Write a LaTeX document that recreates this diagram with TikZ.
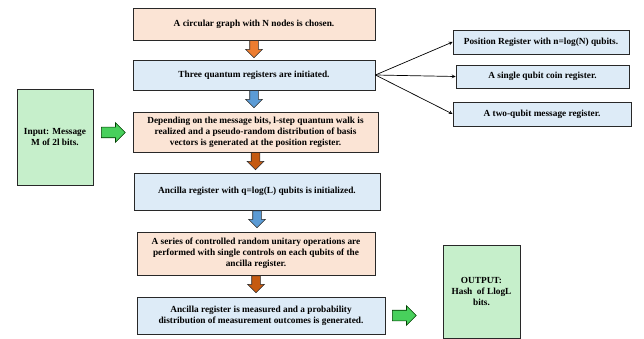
\documentclass[tikz,border=0pt]{standalone}
\usepackage{fontspec}
\setmainfont{Liberation Serif}
\usetikzlibrary{arrows,shapes.arrows}
\definecolor{peachbox}{RGB}{251,228,213}
\definecolor{bluebox}{RGB}{221,235,247}
\definecolor{greenbox}{RGB}{198,239,203}
\definecolor{orangearr}{RGB}{237,125,49}
\definecolor{bluearr}{RGB}{91,155,213}
\definecolor{brownarr}{RGB}{197,90,17}
\definecolor{greenarr}{RGB}{72,208,92}
\definecolor{dframe}{RGB}{40,40,40}

\begin{document}
\begin{tikzpicture}[x=1pt,y=-1pt,>=stealth,
  every node/.style={font=\bfseries\fontsize{9.3}{11.2}\selectfont,align=center},
  pinkstep/.style={draw=dframe,line width=0.8pt,fill=peachbox,inner sep=0pt},
  bluestep/.style={draw=dframe,line width=0.8pt,fill=bluebox,inner sep=0pt},
  iobox/.style={draw=dframe,line width=0.8pt,fill=greenbox,inner sep=0pt},
  downarr/.style={single arrow,draw=dframe,line width=0.6pt,rotate=-90,anchor=tail,
    minimum height=17pt,inner xsep=0pt,inner ysep=4pt,single arrow head extend=4pt},
  sidearr/.style={single arrow,draw=black!60!green!60!black,line width=0.6pt,fill=greenarr,anchor=tail,
    minimum height=24pt,inner xsep=0pt,inner ysep=5pt,single arrow head extend=4.5pt}]
  \useasboundingbox (0,0) rectangle (644,339);

  % main column:
  \node[pinkstep,minimum width=242pt,minimum height=32pt] (b1) at (254,24) {A circular graph with N nodes is chosen.};
  \node[bluestep,minimum width=242pt,minimum height=30pt] (b2) at (254,75) {Three quantum registers are initiated.};
  \node[pinkstep,minimum width=245pt,minimum height=40pt] (b3) at (255.5,132)
    {Depending on the message bits, l-step quantum walk is\\realized and a pseudo-random distribution of basis\\vectors is generated at the position register.};
  \node[bluestep,minimum width=246pt,minimum height=37pt] (b4) at (257,191.5) {Ancilla register with q=log(L) qubits is initialized.};
  \node[pinkstep,minimum width=238pt,minimum height=43pt] (b5) at (256,253.5)
    {A series of controlled random unitary operations are\\performed with single controls on each qubits of the\\ancilla register.};
  \node[bluestep,minimum width=248pt,minimum height=37pt] (b6) at (261,315.5)
    {Ancilla register is measured and a probability\\distribution of measurement outcomes is generated.};

  % block arrows:
  \node[downarr,fill=orangearr] (d1) at (b1.south) {};
  \node[downarr,fill=bluearr] (d2) at (b2.south) {};
  \node[downarr,fill=brownarr] (d3) at (b3.south) {};
  \node[downarr,fill=bluearr] (d4) at (b4.south) {};
  \node[downarr,fill=brownarr] (d5) at (b5.south) {};

  % input / output:
  \node[iobox,minimum width=76pt,minimum height=96pt] (inp) at (55,137) {Input: Message\\M of 2l bits.};
  \node[sidearr] (gin) at (101,132.5) {};
  \node[iobox,minimum width=77pt,minimum height=93pt] (outp) at (481.5,291.5) {OUTPUT:\\Hash\ \ of LlogL\\bits.};
  \node[sidearr] (gout) at (392,315.5) {};

  % registers:
  \node[bluestep,minimum width=176pt,minimum height=24pt] (regA) at (541,42) {Position Register with n=log(N) qubits.};
  \node[bluestep,minimum width=173pt,minimum height=23pt] (regB) at (542.5,76.5) {A single qubit coin register.};
  \node[bluestep,minimum width=178pt,minimum height=24pt] (regC) at (542,114) {A two-qubit message register.};
  \draw[->,line width=0.7pt] (b2.east) -- (regA.west);
  \draw[->,line width=0.7pt] (b2.east) -- (regB.west);
  \draw[->,line width=0.7pt] (b2.east) -- (regC.west);
\end{tikzpicture}
\end{document}
